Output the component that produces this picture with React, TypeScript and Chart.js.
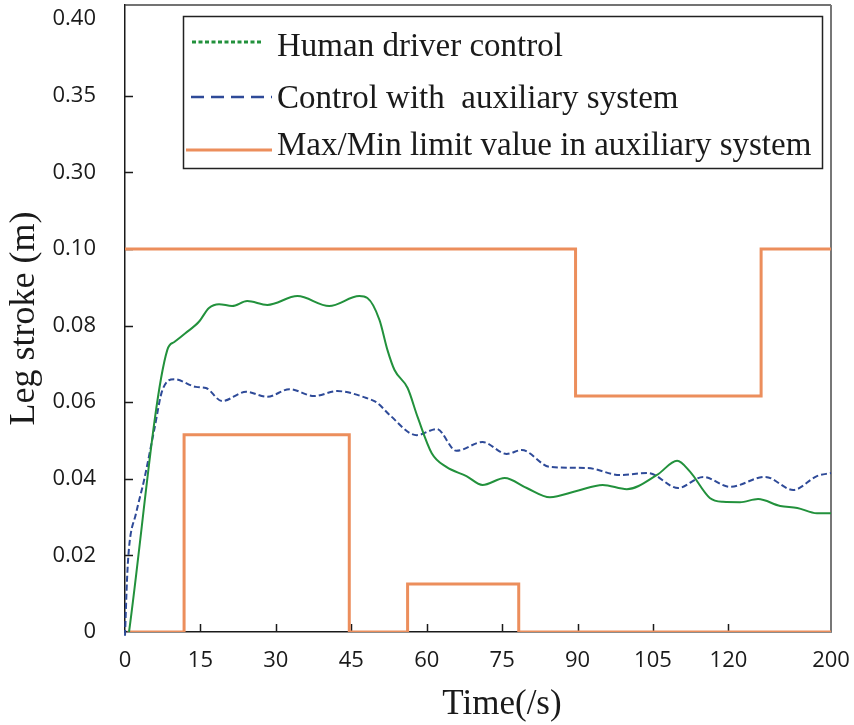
import React, { useEffect, useRef } from "react";
import { Chart, registerables } from "chart.js";

Chart.register(...registerables);

// ---- axis ticks ----
const xTickValues = [0, 15, 30, 45, 60, 75, 90, 105, 120];
const xAxisEnd = 140.4;
const xEndLabel = "200";
const yTickValues = [0, 0.02, 0.04, 0.06, 0.08, 0.1, 0.12, 0.14, 0.16];
const yTickLabels = ["0", "0.02", "0.04", "0.06", "0.08", "0.10", "0.30", "0.35", "0.40"];
const yAxisTop = 0.1637;

const xTitle = "Time(/s)";
const yTitle = "Leg stroke (m)";
const seriesLabels = [
  "Human driver control",
  "Control with  auxiliary system",
  "Max/Min limit value in auxiliary system",
];

// ---- series ----
const humanT = [0.8, 8.4, 9.8, 12, 14.7, 16.7, 18.7, 21.3, 24.3, 28.3, 34.3, 40.6, 46.6, 48.2, 50.6, 52.2, 53.6, 56.2, 58.2, 61, 63.9, 67.9, 71.1, 75.5, 79.9, 84.5, 89.8, 95, 99.8, 105.8, 109.8, 112.4, 116.3, 118.9, 122.3, 125.9, 130.3, 133.7, 137.6, 140.4];
const humanV = [0, 0.0736, 0.0757, 0.078, 0.081, 0.0846, 0.0856, 0.0851, 0.0864, 0.0854, 0.0877, 0.0851, 0.0877, 0.0872, 0.0815, 0.0736, 0.0684, 0.0637, 0.0561, 0.0467, 0.0431, 0.0407, 0.0384, 0.0402, 0.0376, 0.0352, 0.0368, 0.0384, 0.0373, 0.041, 0.0447, 0.0418, 0.035, 0.034, 0.0339, 0.0347, 0.0329, 0.0324, 0.031, 0.031];

const auxT = [0, 0.4, 0.8, 2.2, 3.8, 5.8, 7.4, 9.8, 14.1, 16.1, 19.3, 24.1, 28.3, 32.7, 37.6, 42.2, 48, 50.2, 52.6, 58, 62, 65.9, 71.1, 75.9, 78.9, 84.5, 92, 98.4, 104, 110, 115, 120.3, 127.3, 132.9, 137.6, 140.4];
const auxV = [-0.001, 0.0136, 0.022, 0.031, 0.0397, 0.0527, 0.063, 0.066, 0.064, 0.0637, 0.0603, 0.0627, 0.0614, 0.0634, 0.0616, 0.0629, 0.0611, 0.0598, 0.0567, 0.0514, 0.053, 0.0473, 0.0496, 0.0465, 0.0475, 0.0431, 0.0428, 0.041, 0.0415, 0.0376, 0.0405, 0.0379, 0.0405, 0.0371, 0.0407, 0.0415];

const upperT = [0, 89.6, 126.5, 140.4];
const upperV = [0.1, 0.0616, 0.1, 0.1];
const lowerT = [0.5, 11.75, 44.6, 56.2, 78.3, 140.4];
const lowerV = [0, 0.0515, 0, 0.0125, 0, 0];

// ---- styles ----
const GREEN = "#22913C";
const BLUE = "#2E4A98";
const ORANGE = "#EC8E5C";
const INK = "#1a1a1a";
const SERIF = '"Liberation Serif", "Times New Roman", serif';
const SANS = '"Open Sans", "DejaVu Sans", sans-serif';

const pts = (xs: number[], ys: number[]) => xs.map((x, i) => ({ x, y: ys[i] }));

const innerTicks = {
  id: "innerTicks",
  beforeDatasetsDraw(chart: any) {
    const { ctx, chartArea, scales } = chart;
    const xs = scales.x;
    const ys = scales.y;
    ctx.save();
    ctx.strokeStyle = INK;
    ctx.lineWidth = 1.5;
    ctx.beginPath();
    xTickValues.slice(1).forEach((v) => {
      const px = Math.round(xs.getPixelForValue(v)) + 0.5;
      ctx.moveTo(px, chartArea.bottom);
      ctx.lineTo(px, chartArea.bottom - 8);
    });
    yTickValues.slice(1, -1).forEach((v) => {
      const py = Math.round(ys.getPixelForValue(v)) + 0.5;
      ctx.moveTo(chartArea.left, py);
      ctx.lineTo(chartArea.left + 8, py);
    });
    ctx.stroke();
    // frame top & right
    ctx.strokeStyle = "#444";
    ctx.lineWidth = 1.5;
    ctx.beginPath();
    ctx.moveTo(chartArea.left, chartArea.top);
    ctx.lineTo(chartArea.right, chartArea.top);
    ctx.stroke();
    ctx.strokeStyle = "#777";
    ctx.lineWidth = 2;
    ctx.beginPath();
    ctx.moveTo(chartArea.right, chartArea.top);
    ctx.lineTo(chartArea.right, chartArea.bottom);
    ctx.stroke();
    ctx.restore();
  },
};

const legendAndTitle = {
  id: "legendAndTitle",
  afterDraw(chart: any) {
    const { ctx } = chart;
    const ds = chart.data.datasets;
    ctx.save();
    // box
    ctx.fillStyle = "#fff";
    ctx.fillRect(183.5, 16.5, 639, 152);
    ctx.strokeStyle = "#222";
    ctx.lineWidth = 1.5;
    ctx.strokeRect(183.5, 16.5, 639, 152);
    const rows = [
      { x0: 192, x1: 263, y: 42, base: 56, dash: [4, 2.5], w: 3 },
      { x0: 191, x1: 272, y: 97, base: 108, dash: [13, 7], w: 2.5 },
      { x0: 186, x1: 272, y: 150, base: 155, dash: [], w: 3 },
    ];
    rows.forEach((r, i) => {
      ctx.beginPath();
      ctx.setLineDash(r.dash);
      ctx.strokeStyle = ds[i].borderColor;
      ctx.lineWidth = r.w;
      ctx.moveTo(r.x0, r.y);
      ctx.lineTo(r.x1, r.y);
      ctx.stroke();
      ctx.setLineDash([]);
      ctx.fillStyle = INK;
      ctx.font = `33px ${SERIF}`;
      ctx.textAlign = "left";
      ctx.textBaseline = "alphabetic";
      ctx.fillText(ds[i].label, 277, r.base);
    });
    // x axis title
    ctx.font = `35px ${SERIF}`;
    ctx.textAlign = "center";
    ctx.textBaseline = "alphabetic";
    ctx.fillStyle = INK;
    ctx.fillText(xTitle, 502, 714);
    ctx.restore();
  },
};

export default function App() {
  const ref = useRef<HTMLCanvasElement>(null);
  useEffect(() => {
    const canvas = ref.current!;
    const chart = new Chart(canvas, {
      type: "line",
      data: {
        datasets: [
          {
            label: seriesLabels[0],
            data: pts(humanT, humanV),
            borderColor: GREEN,
            borderWidth: 2,
            pointRadius: 0,
            cubicInterpolationMode: "monotone",
            fill: false,
          },
          {
            label: seriesLabels[1],
            data: pts(auxT, auxV),
            borderColor: BLUE,
            borderWidth: 2,
            borderDash: [6, 3],
            pointRadius: 0,
            cubicInterpolationMode: "monotone",
            fill: false,
            clip: false,
          },
          {
            label: seriesLabels[2],
            data: pts(upperT, upperV),
            borderColor: ORANGE,
            borderWidth: 3,
            stepped: "before",
            pointRadius: 0,
            fill: false,
          },
          {
            label: seriesLabels[2],
            data: pts(lowerT, lowerV),
            borderColor: ORANGE,
            borderWidth: 3,
            stepped: "before",
            pointRadius: 0,
            fill: false,
          },
        ],
      } as any,
      options: {
        animation: false,
        responsive: false,
        layout: { padding: { left: 0, top: 5, right: 23, bottom: 0 } },
        plugins: { legend: { display: false }, tooltip: { enabled: false } },
        scales: {
          x: {
            type: "linear",
            min: 0,
            max: xAxisEnd,
            grid: { display: false },
            border: { display: true, color: INK, width: 1.5 },
            ticks: {
              autoSkip: false,
              maxRotation: 0,
              padding: 8,
              color: INK,
              font: { family: SANS, size: 22 },
              callback: (v: any) => (v === xAxisEnd ? xEndLabel : String(v)),
            },
            afterBuildTicks: (s: any) => {
              s.ticks = [...xTickValues, xAxisEnd].map((value) => ({ value }));
            },
            afterFit: (s: any) => {
              s.height = 93;
              s.paddingLeft = 0;
              s.paddingRight = 0;
            },
          },
          y: {
            type: "linear",
            min: 0,
            max: yAxisTop,
            grid: { display: false },
            border: { display: true, color: INK, width: 1.5 },
            title: {
              display: true,
              text: yTitle,
              color: INK,
              font: { family: SERIF, size: 36, weight: "normal" },
              padding: { top: 3, bottom: 0 },
            },
            ticks: {
              autoSkip: false,
              padding: 21,
              color: INK,
              font: { family: SANS, size: 22 },
              callback: (v: any) => {
                const i = yTickValues.findIndex((t) => Math.abs(t - v) < 1e-9);
                return i >= 0 ? yTickLabels[i] : "";
              },
            },
            afterBuildTicks: (s: any) => {
              s.ticks = yTickValues.map((value) => ({ value }));
            },
            afterFit: (s: any) => {
              s.width = 125;
              s.paddingTop = 0;
              s.paddingBottom = 0;
            },
          },
        },
      } as any,
      plugins: [innerTicks, legendAndTitle],
    });
    return () => chart.destroy();
  }, []);
  return (
    <div style={{ position: "absolute", left: 0, top: 0, width: 854, height: 725, background: "#fff" }}>
      <canvas ref={ref} width={854} height={725} style={{ width: 854, height: 725, display: "block" }} />
    </div>
  );
}
